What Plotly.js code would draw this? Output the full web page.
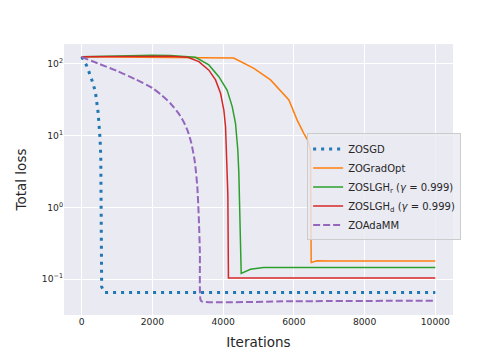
<!DOCTYPE html>
<html>
<head>
<meta charset="utf-8">
<script src="https://cdn.plot.ly/plotly-3.0.1.min.js"></script>
<style>
  body { margin: 0; }
  #myDiv { width: 504px; height: 360px; }
</style>
</head>
<body>
<div id="myDiv"></div>
<script>
// iterations / total loss
var sgdIter = [0, 140, 230, 320, 390, 430, 460, 480, 500, 520, 540, 565, 640, 10000];
var sgdLoss = [126, 95, 72, 54, 40, 30, 22, 16.6, 12.4, 9.1, 5.0, 0.078, 0.065, 0.065];

var gradIter = [0, 1000, 2000, 3000, 4000, 4300, 4870, 5340, 5860, 6090, 6280, 6390, 6470, 6490, 6660, 7000, 10000];
var gradLoss = [126, 125, 124, 123, 122, 121, 87, 60, 31.5, 16.6, 10.8, 8.7, 6.3, 0.17, 0.18, 0.179, 0.178];

var slghrIter = [0, 1000, 2000, 2500, 3000, 3220, 3596, 3879, 4115, 4257, 4350, 4415, 4444, 4492, 4511, 4774, 5141, 6000, 10000];
var slghrLoss = [126, 130, 132, 131, 128, 124, 97, 66.5, 43, 25.4, 14.9, 6.3, 3.0, 0.48, 0.12, 0.137, 0.145, 0.145, 0.145];

var slghdIter = [0, 1000, 2000, 2500, 3000, 3314, 3596, 3785, 3927, 4020, 4068, 4096, 4133, 4150, 6000, 10000];
var slghdLoss = [126, 128, 129, 128, 124, 108, 82, 60, 39, 22.8, 13.3, 6.3, 1.5, 0.103, 0.103, 0.103];

var adaIter = [0, 500, 1000, 1500, 2000, 2250, 2500, 2750, 2900, 3000, 3100, 3200, 3270, 3314, 3342, 3362, 3409, 6000, 10000];
var adaLoss = [125, 100, 79.8, 61.8, 46.2, 37, 28.6, 20.1, 15, 11.6, 7.9, 4.3, 1.93, 0.667, 0.231, 0.051, 0.0484, 0.049, 0.05];

var names = ['ZOSGD', 'ZOGradOpt', 'ZOSLGH<sub>r</sub> (<i>γ</i> = 0.999)', 'ZOSLGH<sub>d</sub> (<i>γ</i> = 0.999)', 'ZOAdaMM'];
var colors = ['#1f77b4', '#ff7f0e', '#2ca02c', '#d62728', '#9467bd'];

var data = [
  {x: sgdIter, y: sgdLoss, name: names[0], mode: 'lines', line: {color: colors[0], width: 3, dash: '3px,5px'}},
  {x: gradIter, y: gradLoss, name: names[1], mode: 'lines', line: {color: colors[1], width: 1.5}},
  {x: slghrIter, y: slghrLoss, name: names[2], mode: 'lines', line: {color: colors[2], width: 1.5}},
  {x: slghdIter, y: slghdLoss, name: names[3], mode: 'lines', line: {color: colors[3], width: 1.5}},
  {x: adaIter, y: adaLoss, name: names[4], mode: 'lines', line: {color: colors[4], width: 2, dash: '7px,3px', shape: 'spline', smoothing: 0.6}}
];

var layout = {
  width: 504,
  height: 360,
  margin: {l: 64, r: 51, t: 44, b: 45},
  paper_bgcolor: 'white',
  plot_bgcolor: '#eaeaf2',
  font: {family: 'DejaVu Sans', color: '#262626'},
  showlegend: true,
  legend: {
    x: 0.625, y: 0.67, xanchor: 'left', yanchor: 'top',
    bgcolor: 'rgba(234,234,242,0.8)', bordercolor: '#cccccc', borderwidth: 1,
    font: {size: 10, color: '#262626'}, itemwidth: 30
  },
  xaxis: {
    range: [-500, 10500],
    tickvals: [0, 2000, 4000, 6000, 8000, 10000],
    ticktext: ['0', '2000', '4000', '6000', '8000', '10000'],
    tickfont: {size: 9.2},
    gridcolor: 'white', gridwidth: 1,
    zeroline: false, showline: false, ticks: '',
    title: {text: 'Iterations', font: {size: 13.5}, standoff: 11}
  },
  yaxis: {
    type: 'log',
    range: [Math.log10(0.0315), Math.log10(190)],
    tickvals: [0.1, 1, 10, 100],
    ticktext: ['10<sup>−1</sup>', '10<sup>0</sup>', '10<sup>1</sup>', '10<sup>2</sup>'],
    tickfont: {size: 9.2},
    gridcolor: 'white', gridwidth: 1,
    zeroline: false, showline: false, ticks: '',
    title: {text: 'Total loss', font: {size: 13.5}, standoff: 12}
  }
};

Plotly.newPlot('myDiv', data, layout, {displayModeBar: false});
</script>
</body>
</html>
